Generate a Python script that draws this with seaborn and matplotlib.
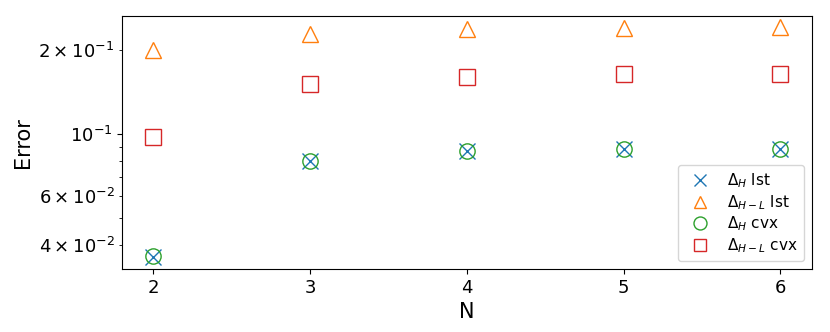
import numpy as np
import matplotlib
matplotlib.use('Agg')
import matplotlib.pyplot as plt
import seaborn as sns

# data
N = [2, 3, 4, 5, 6]
dh_lst = [0.0360, 0.0800, 0.0870, 0.0884, 0.0882]
dhl_lst = [0.201, 0.230, 0.238, 0.240, 0.242]
dh_cvx = [0.0365, 0.0800, 0.0870, 0.0884, 0.0882]
dhl_cvx = [0.098, 0.151, 0.161, 0.164, 0.165]

fig = plt.figure(figsize=(8.3, 3.32), dpi=100)
ax = fig.add_axes([0.147, 0.19, 0.831, 0.762])

series = [
    (dh_lst, 'x', 'tab:blue', r'$\Delta_H$ lst'),
    (dhl_lst, '^', 'tab:orange', r'$\Delta_{H-L}$ lst'),
    (dh_cvx, 'o', 'tab:green', r'$\Delta_H$ cvx'),
    (dhl_cvx, 's', 'tab:red', r'$\Delta_{H-L}$ cvx'),
]
for vals, m, c, lab in series:
    sns.lineplot(x=N, y=vals, ax=ax, marker=m, linestyle='', markersize=11,
                 markerfacecolor='none', markeredgecolor=c, markeredgewidth=1.0,
                 color=c, label=lab)

ax.set_yscale('log')
ax.set_xticks(N)
ax.tick_params(axis='both', which='both', labelsize=13)
ax.set_xlabel('N', fontsize=15)
ax.set_ylabel('Error', fontsize=15)
ax.legend(loc='lower right', fontsize=11, labelspacing=0.2, markerscale=0.85)

fig.savefig('out.png', dpi=100)
